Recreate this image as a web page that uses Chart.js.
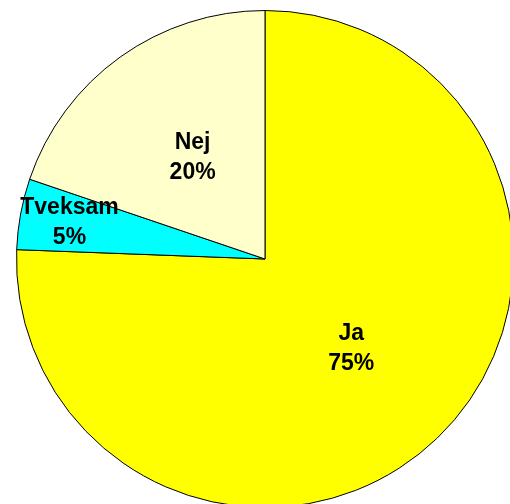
<!DOCTYPE html>
<html>
<head>
<meta charset="utf-8">
<script src="https://cdn.jsdelivr.net/npm/chart.js@4"></script>
<style>
  html, body { margin: 0; padding: 0; background: #fff; overflow: hidden; }
  #wrap { position: absolute; left: 0; top: 0; }
</style>
</head>
<body>
<div id="wrap"><canvas id="c" width="530" height="518"></canvas></div>
<script>
const categories = ["Ja", "Tveksam", "Nej"];
const values = [75.6, 4.6, 19.8];
const percentLabels = ["75%", "5%", "20%"];
const sliceColors = ["#FFFF00", "#00FFFF", "#FFFFCC"];
// how far out along the radius each label sits (Excel "best fit")
const labelRadius = [0.5, 0.8, 0.5];

const sliceLabels = {
  id: "sliceLabels",
  afterDatasetsDraw(chart) {
    const { ctx } = chart;
    const arcs = chart.getDatasetMeta(0).data;
    ctx.save();
    ctx.font = "bold 23px 'Liberation Sans', Arial, sans-serif";
    ctx.fillStyle = "#000";
    ctx.textAlign = "center";
    ctx.textBaseline = "middle";
    arcs.forEach((arc, i) => {
      const p = arc.getProps(["x", "y", "startAngle", "endAngle", "outerRadius"], true);
      const mid = (p.startAngle + p.endAngle) / 2;
      const d = p.outerRadius * labelRadius[i];
      const x = p.x + Math.cos(mid) * d;
      const y = p.y + Math.sin(mid) * d;
      ctx.fillText(categories[i], x, y - 15);
      ctx.fillText(percentLabels[i], x, y + 15);
    });
    ctx.restore();
  },
};

new Chart(document.getElementById("c").getContext("2d"), {
  type: "pie",
  data: {
    labels: categories,
    datasets: [
      {
        data: values,
        backgroundColor: sliceColors,
        borderColor: "#000",
        borderWidth: 1,
      },
    ],
  },
  options: {
    responsive: false,
    animation: false,
    layout: { padding: 10 },
    plugins: {
      legend: { display: false },
      tooltip: { enabled: false },
    },
  },
  plugins: [sliceLabels],
});
</script>
</body>
</html>
